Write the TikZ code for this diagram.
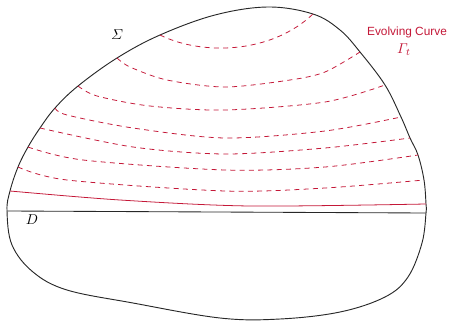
\documentclass[tikz,border=0pt]{standalone}
\usepackage{amsmath}
\usepackage{fontspec}
\usepackage{tikz}
\newfontfamily\curvefont{Liberation Sans}
\definecolor{evred}{RGB}{196,24,56}
\definecolor{rimink}{RGB}{40,40,40}
\tikzset{
  rim/.style={draw=rimink, line width=0.65pt},
  front/.style={draw=evred, line width=0.55pt},
  level/.style={front, dash pattern=on 3.5pt off 3pt},
  chord/.style={draw=rimink, line width=0.6pt},
  tag/.style={inner sep=1pt, font=\normalsize},
  redtag/.style={inner sep=1pt, text=evred, font=\curvefont\fontsize{8.3}{10}\selectfont}
}
\begin{document}
\begin{tikzpicture}[x=0.7pt, y=-0.7pt]
  \useasboundingbox (0,0) rectangle (449,320);
  % the domain
  \draw[rim] plot[smooth cycle, tension=0.6] coordinates {
    (7,211) (10,191) (18,167) (28,147) (40,128) (55,108) (78,86) (117,58)
    (160,35) (215,15) (268,7) (313,14) (340,30) (360,52) (385,85) (401,117)
    (410,138) (418,155) (424,180) (426,204) (426,213) (422,243) (408,277)
    (385,297) (340,312) (280,319) (220,318) (133,303) (67,290) (33,272) (12,245)};
  % level sets of the flow
  \draw[level] (160,35) .. controls (200,55) and (270,55) .. (313,14);
  \draw[level] plot[smooth] coordinates {(117,58) (130,67) (167,80) (225,87) (290,80) (325,72) (360,52)};
  \draw[level] plot[smooth] coordinates {(78,86) (97,96) (150,106) (225,110) (325,102) (385,85)};
  \draw[level] plot[smooth] coordinates {(55,108) (67,115) (133,128) (225,138) (325,131) (401,117)};
  \draw[level] plot[smooth] coordinates {(40,128) (133,147) (225,154) (325,148) (410,138)};
  \draw[level] plot[smooth] coordinates {(28,147) (83,160) (225,170) (325,167) (418,155)};
  \draw[level] plot[smooth] coordinates {(18,167) (67,180) (225,191) (325,188) (424,180)};
  \draw[front] plot[smooth] coordinates {(10,191) (120,200) (250,206) (426,204)};
  \draw[chord] (7,211) -- (426,213);
  % labels
  \node[tag] (sigma) at (117,35) {$\varSigma$};
  \node[tag] (dlab) at (32,220) {$D$};
  \node[redtag] (evolving) at (407,32) {Evolving Curve};
  \node[tag, text=evred] (gamma) at (404,50) {$\varGamma_t$};
\end{tikzpicture}
\end{document}
